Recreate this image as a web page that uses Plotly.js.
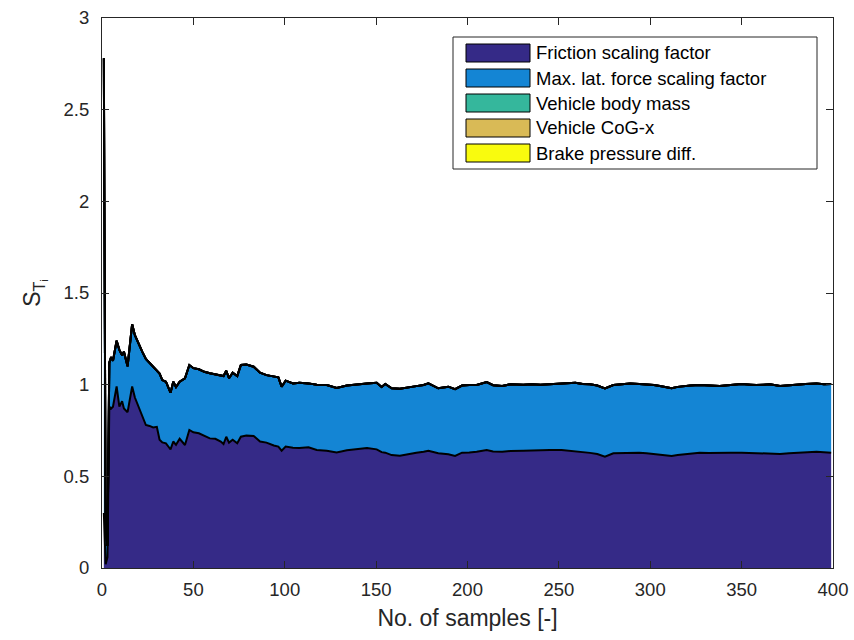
<!DOCTYPE html>
<html>
<head>
<meta charset="utf-8">
<script src="https://cdn.plot.ly/plotly-3.0.1.min.js"></script>
<style>html,body{margin:0;padding:0;background:#fff;}#chart{width:854px;height:640px;}</style>
</head>
<body>
<div id="chart"></div>
<script>
// Sample positions (No. of samples)
var samples = [1,2,3,4,5,6,8,9.5,11,12,14,16.5,18,20,22,24,26,28,30,31.5,33,35,36.5,37.5,39,40.5,42.5,45.4,47.8,50,53,56,59,62,65,66.5,68,69.5,71.5,74,76,79,83,86.5,90,94,96.5,98.3,100.5,104.5,108,113,117.5,123,128.4,134,139.5,145,150.3,153,155,158.5,163,168.5,172,176,178.6,184,189.5,193.2,197,201,205,210.5,214,219,223.5,230.5,235,240,245,251.5,256,259,263,267,271,275.2,279.8,285,289,294,298,302,305.3,309,311.7,315,318,322,327,332,338,344,350,355,358,362,365.5,371,376,380,385,391,395,399];

// Total-effect index, friction scaling factor
var friction = [0.30,0.02,0.06,0.88,0.87,0.88,0.99,0.88,0.91,0.87,0.85,0.99,0.93,0.88,0.83,0.78,0.775,0.767,0.77,0.70,0.685,0.68,0.66,0.647,0.69,0.672,0.705,0.671,0.753,0.74,0.735,0.72,0.707,0.705,0.69,0.676,0.716,0.684,0.70,0.68,0.716,0.722,0.72,0.69,0.684,0.668,0.662,0.64,0.662,0.656,0.655,0.658,0.644,0.64,0.63,0.642,0.647,0.655,0.647,0.632,0.629,0.616,0.612,0.624,0.629,0.634,0.64,0.626,0.62,0.611,0.629,0.63,0.634,0.644,0.636,0.634,0.638,0.64,0.642,0.644,0.644,0.644,0.64,0.637,0.634,0.628,0.622,0.607,0.626,0.628,0.629,0.628,0.626,0.622,0.616,0.612,0.611,0.616,0.62,0.624,0.629,0.627,0.626,0.628,0.629,0.628,0.627,0.626,0.624,0.622,0.626,0.629,0.632,0.634,0.632,0.629];

// Total-effect index, max. lateral force scaling factor
var maxLatForce = [2.48,0.18,0.06,0.24,0.28,0.25,0.25,0.31,0.25,0.31,0.25,0.34,0.34,0.34,0.35,0.36,0.345,0.328,0.31,0.36,0.34,0.336,0.32,0.309,0.326,0.315,0.311,0.364,0.354,0.35,0.349,0.35,0.355,0.35,0.36,0.371,0.36,0.351,0.365,0.367,0.391,0.388,0.378,0.375,0.368,0.377,0.378,0.349,0.36,0.351,0.356,0.349,0.356,0.358,0.352,0.353,0.355,0.351,0.363,0.355,0.375,0.364,0.366,0.365,0.363,0.364,0.367,0.354,0.369,0.364,0.366,0.368,0.364,0.37,0.361,0.359,0.364,0.359,0.36,0.356,0.358,0.363,0.366,0.374,0.37,0.374,0.373,0.373,0.372,0.376,0.378,0.376,0.376,0.376,0.377,0.374,0.369,0.372,0.373,0.372,0.369,0.369,0.367,0.37,0.375,0.372,0.371,0.374,0.378,0.371,0.372,0.373,0.372,0.373,0.37,0.375];

// Remaining parameters (negligible contribution)
var smallSamples = [1, 399];
var bodyMass = [0, 0];
var cogX = [0, 0];
var brakeDiff = [0, 0];

var names = ['Friction scaling factor','Max. lat. force scaling factor','Vehicle body mass','Vehicle CoG-x','Brake pressure diff.'];
var colors = ['#352a87','#1485d4','#35b79c','#d9ba56','#f9fb0e'];
var xTicks = [0,50,100,150,200,250,300,350,400];
var yTicks = [0,0.5,1,1.5,2,2.5,3];

var series = [
  {x: samples, y: friction},
  {x: samples, y: maxLatForce},
  {x: smallSamples, y: bodyMass},
  {x: smallSamples, y: cogX},
  {x: smallSamples, y: brakeDiff}
];

var traces = series.map(function(s, i){
  return {
    x: s.x, y: s.y, name: names[i], type: 'scatter', mode: 'lines',
    stackgroup: 'one', fillcolor: colors[i], showlegend: false,
    line: {color: '#000000', width: 2}
  };
});

// Legend drawn in plot-area (paper) fractions; plot area is 731 x 550 px
var plotW = 731, plotH = 550, plotL = 102, plotT = 18;
function px2x(p){ return (p - plotL) / plotW; }
function px2y(p){ return 1 - (p - plotT) / plotH; }

var shapes = [{
  type: 'rect', xref: 'paper', yref: 'paper',
  x0: px2x(453), x1: px2x(817), y0: px2y(169), y1: px2y(37),
  fillcolor: '#ffffff', line: {color: '#262626', width: 1}, layer: 'above'
}];
var annotations = [];
var rowY = [53, 78, 103, 128, 153];
names.forEach(function(n, i){
  shapes.push({
    type: 'rect', xref: 'paper', yref: 'paper',
    x0: px2x(466), x1: px2x(530), y0: px2y(rowY[i] + 9), y1: px2y(rowY[i] - 9),
    fillcolor: colors[i], line: {color: '#000000', width: 1}, layer: 'above'
  });
  annotations.push({
    xref: 'paper', yref: 'paper', x: px2x(534), y: px2y(rowY[i]),
    xanchor: 'left', yanchor: 'middle', showarrow: false, text: n,
    font: {family: 'Liberation Sans, Arial, sans-serif', size: 18.5, color: '#000000'}
  });
});

var axisCommon = {
  showgrid: false, zeroline: false, showline: true, linecolor: '#262626', linewidth: 1,
  mirror: 'ticks', ticks: 'inside', ticklen: 7, tickcolor: '#262626', tickwidth: 1,
  tickfont: {family: 'Liberation Sans, Arial, sans-serif', size: 18.5, color: '#262626'}
};

var layout = {
  width: 854, height: 640,
  margin: {l: 102, r: 21, t: 18, b: 72},
  paper_bgcolor: '#ffffff', plot_bgcolor: '#ffffff',
  font: {family: 'Liberation Sans, Arial, sans-serif', color: '#262626'},
  xaxis: Object.assign({}, axisCommon, {
    range: [0, 400], tickvals: xTicks, ticktext: xTicks.map(String), ticklabelstandoff: 5,
    title: {text: 'No. of samples [-]', font: {size: 23, color: '#262626'}, standoff: 10}
  }),
  yaxis: Object.assign({}, axisCommon, {
    range: [0, 3], tickvals: yTicks, ticktext: yTicks.map(String), ticklabelstandoff: 8,
    title: {text: 'S<sub>T<sub>i</sub></sub>', font: {size: 23, color: '#262626'}, standoff: 16}
  }),
  showlegend: false,
  shapes: shapes,
  annotations: annotations
};

Plotly.newPlot('chart', traces, layout, {displayModeBar: false, staticPlot: true});
</script>
</body>
</html>
